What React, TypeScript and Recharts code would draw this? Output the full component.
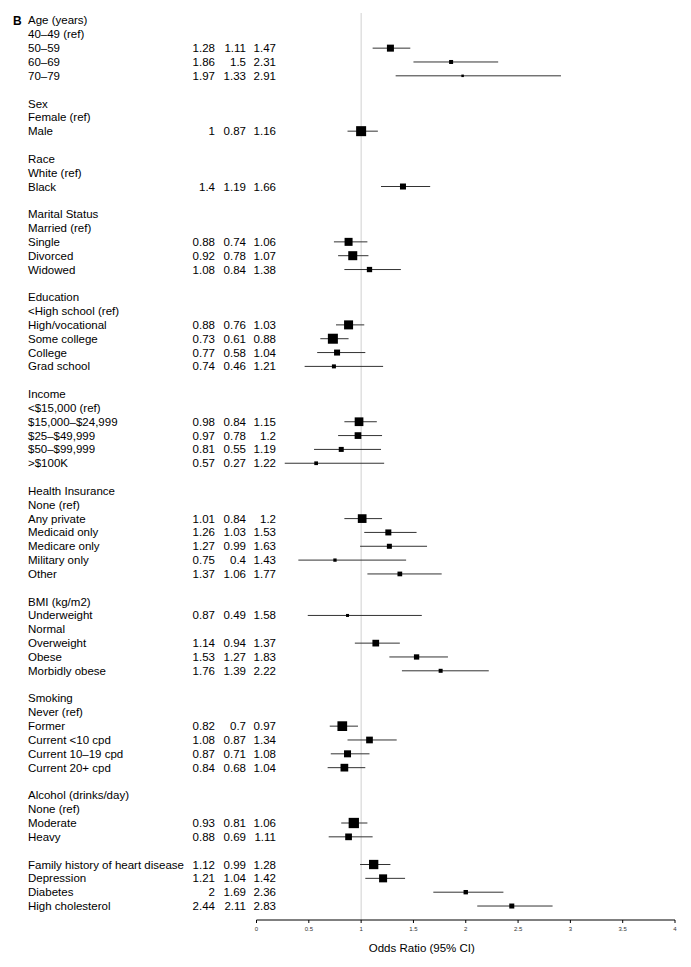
import React from 'react';
import { ScatterChart, Scatter, XAxis, YAxis, ErrorBar, ReferenceLine } from 'recharts';

// one entry per printed row of the forest plot ("" = spacer row)
const rowLabels = [
  'Age (years)', '40–49 (ref)', '50–59', '60–69', '70–79', '',
  'Sex', 'Female (ref)', 'Male', '',
  'Race', 'White (ref)', 'Black', '',
  'Marital Status', 'Married (ref)', 'Single', 'Divorced', 'Widowed', '',
  'Education', '<High school (ref)', 'High/vocational', 'Some college', 'College', 'Grad school', '',
  'Income', '<$15,000 (ref)', '$15,000–$24,999', '$25–$49,999', '$50–$99,999', '>$100K', '',
  'Health Insurance', 'None (ref)', 'Any private', 'Medicaid only', 'Medicare only', 'Military only', 'Other', '',
  'BMI (kg/m2)', 'Underweight', 'Normal', 'Overweight', 'Obese', 'Morbidly obese', '',
  'Smoking', 'Never (ref)', 'Former', 'Current <10 cpd', 'Current 10–19 cpd', 'Current 20+ cpd', '',
  'Alcohol (drinks/day)', 'None (ref)', 'Moderate', 'Heavy', '',
  'Family history of heart disease', 'Depression', 'Diabetes', 'High cholesterol',
];

const N = null;
const oddsRatio = [
  N, N, 1.28, 1.86, 1.97, N,
  N, N, 1, N,
  N, N, 1.4, N,
  N, N, 0.88, 0.92, 1.08, N,
  N, N, 0.88, 0.73, 0.77, 0.74, N,
  N, N, 0.98, 0.97, 0.81, 0.57, N,
  N, N, 1.01, 1.26, 1.27, 0.75, 1.37, N,
  N, 0.87, N, 1.14, 1.53, 1.76, N,
  N, N, 0.82, 1.08, 0.87, 0.84, N,
  N, N, 0.93, 0.88, N,
  1.12, 1.21, 2, 2.44,
];
const lowerCI = [
  N, N, 1.11, 1.5, 1.33, N,
  N, N, 0.87, N,
  N, N, 1.19, N,
  N, N, 0.74, 0.78, 0.84, N,
  N, N, 0.76, 0.61, 0.58, 0.46, N,
  N, N, 0.84, 0.78, 0.55, 0.27, N,
  N, N, 0.84, 1.03, 0.99, 0.4, 1.06, N,
  N, 0.49, N, 0.94, 1.27, 1.39, N,
  N, N, 0.7, 0.87, 0.71, 0.68, N,
  N, N, 0.81, 0.69, N,
  0.99, 1.04, 1.69, 2.11,
];
const upperCI = [
  N, N, 1.47, 2.31, 2.91, N,
  N, N, 1.16, N,
  N, N, 1.66, N,
  N, N, 1.06, 1.07, 1.38, N,
  N, N, 1.03, 0.88, 1.04, 1.21, N,
  N, N, 1.15, 1.2, 1.19, 1.22, N,
  N, N, 1.2, 1.53, 1.63, 1.43, 1.77, N,
  N, 1.58, N, 1.37, 1.83, 2.22, N,
  N, N, 0.97, 1.34, 1.08, 1.04, N,
  N, N, 1.06, 1.11, N,
  1.28, 1.42, 2.36, 2.83,
];
// relative weight of each estimate (drives box size)
const boxWeight = [
  N, N, 0.7, 0.4, 0.25, N,
  N, N, 1.0, N,
  N, N, 0.6, N,
  N, N, 0.8, 0.9, 0.53, N,
  N, N, 0.9, 1.0, 0.6, 0.4, N,
  N, N, 0.87, 0.67, 0.5, 0.37, N,
  N, N, 0.87, 0.6, 0.5, 0.33, 0.47, N,
  N, 0.3, N, 0.67, 0.53, 0.4, N,
  N, N, 0.97, 0.67, 0.7, 0.77, N,
  N, N, 1.03, 0.67, N,
  0.93, 0.8, 0.44, 0.5,
];

const xTicks = [0, 0.5, 1, 1.5, 2, 2.5, 3, 3.5, 4];

const FONT = '"Liberation Sans", Arial, Helvetica, sans-serif';
const BOX_SCALE = 10;

const data = rowLabels
  .map((label, i) => ({ label, i, or: oddsRatio[i], lo: lowerCI[i], hi: upperCI[i], w: boxWeight[i] }))
  .filter((r) => r.or != null)
  .map((r) => ({
    x: r.or as number,
    y: r.i,
    err: [(r.or as number) - (r.lo as number), (r.hi as number) - (r.or as number)],
    w: r.w as number,
  }));

const RowTick = (props: any) => {
  const { y, payload } = props;
  const i = payload.value as number;
  const fmt = (v: number | null) => (v == null ? '' : String(v));
  const common = { y, dy: '0.35em', fontSize: 11.5, fontFamily: FONT, fill: '#000' };
  return (
    <g>
      {i === 0 && (
        <text x={5} {...common} fontWeight="bold" fontSize={12}>B</text>
      )}
      <text x={20} {...common}>{rowLabels[i]}</text>
      {oddsRatio[i] != null && (
        <>
          <text x={207} textAnchor="end" {...common}>{fmt(oddsRatio[i])}</text>
          <text x={238} textAnchor="end" {...common}>{fmt(lowerCI[i])}</text>
          <text x={268} textAnchor="end" {...common}>{fmt(upperCI[i])}</text>
        </>
      )}
    </g>
  );
};

const Box = (props: any) => {
  const { cx, cy, payload } = props;
  const s = payload.w * BOX_SCALE;
  return <rect x={cx - s / 2} y={cy - s / 2} width={s} height={s} fill="#000" />;
};

export default function App() {
  return (
    <div style={{ width: 675, height: 955, background: '#fff' }}>
      <ScatterChart width={675} height={955} margin={{ top: 5, right: 8, bottom: 0, left: 0 }}>
        <XAxis
          type="number"
          dataKey="x"
          domain={[0, 4]}
          ticks={xTicks}
          height={43}
          tickSize={3}
          tickMargin={4}
          stroke="#000"
          tick={{ fontSize: 6, fontFamily: FONT, fill: '#333' }}
          label={{
            content: ({ viewBox }: any) => (
              <text
                x={viewBox.x + 0.395 * viewBox.width}
                y={viewBox.y + 28}
                dy="0.35em"
                textAnchor="middle"
                fontSize={11.5}
                fontFamily={FONT}
                fill="#000"
              >
                Odds Ratio (95% CI)
              </text>
            ),
          }}
        />
        <YAxis
          type="number"
          dataKey="y"
          reversed
          domain={[-0.54, 65.01]}
          allowDataOverflow
          ticks={rowLabels.map((_, i) => i)}
          interval={0}
          width={248.5}
          axisLine={false}
          tickLine={false}
          tick={<RowTick />}
        />
        <ReferenceLine x={1} stroke="#d0d0d0" strokeWidth={1} />
        <Scatter data={data} shape={<Box />} isAnimationActive={false}>
          <ErrorBar dataKey="err" direction="x" width={0} stroke="#333" strokeWidth={1} />
        </Scatter>
      </ScatterChart>
    </div>
  );
}
